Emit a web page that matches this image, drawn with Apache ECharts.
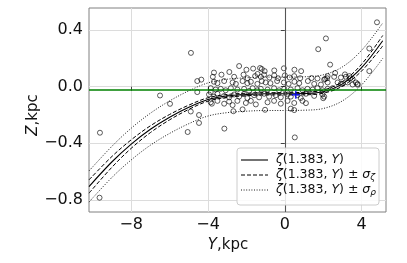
<!DOCTYPE html>
<html><head><meta charset="utf-8">
<script src="https://cdn.jsdelivr.net/npm/echarts@6/dist/echarts.min.js"></script>
<style>html,body{margin:0;padding:0;background:#fff}#c{width:407px;height:263px}</style>
</head><body><div id="c"></div>
<script>
// Curve sample positions (Y, kpc) and values (Z, kpc)
const curveY   = [-10.2, -9, -8, -7, -6, -5, -4, -3, -2, -1, 0, 1, 2, 3, 4, 5.1];
const zetaMid  = [-0.705,-0.53,-0.405,-0.30,-0.215,-0.145,-0.09,-0.065,-0.055,-0.05,-0.05,-0.048,-0.035,0.02,0.135,0.325];
const zetaUpZ  = [-0.658,-0.492,-0.375,-0.276,-0.196,-0.13,-0.078,-0.055,-0.046,-0.042,-0.042,-0.039,-0.024,0.036,0.159,0.362];
const zetaLoZ  = [-0.752,-0.568,-0.435,-0.324,-0.234,-0.16,-0.102,-0.075,-0.064,-0.058,-0.058,-0.057,-0.046,0.004,0.111,0.288];
const zetaUpR  = [-0.595,-0.42,-0.293,-0.187,-0.10,-0.029,0.027,0.053,0.063,0.068,0.068,0.07,0.084,0.14,0.257,0.45];
const zetaLoR  = [-0.815,-0.64,-0.517,-0.413,-0.33,-0.261,-0.207,-0.183,-0.173,-0.168,-0.168,-0.166,-0.154,-0.10,0.013,0.20];
const zLevel = -0.02;      // green horizontal line
const sunPoint = [0.57, -0.057]; // blue cross
const xTicks = [-8, -4, 0, 4];
const yTicks = [-0.8, -0.4, 0, 0.4];
const stars = [
 [4.80,0.455],[2.14,0.341],[1.74,0.265],[2.36,0.156],[4.40,0.27],[4.40,0.11],[3.79,0.014],[-4.89,0.239],[-2.38,0.146],[-3.69,0.10],
 [-2.89,0.104],[-1.65,0.128],[-1.29,0.132],[-4.56,0.04],[-4.35,0.05],[-6.5,-0.062],[-5.98,-0.121],[-4.9,-0.175],[-4.47,-0.2],[-4.47,-0.256],
 [-5.06,-0.32],[-3.15,-0.296],[-9.63,-0.325],[0.52,-0.358],[-9.65,-0.784],[-1.03,-0.163],[-2.68,-0.173],[1.10,-0.116],[2.0,-0.081],[1.39,0.061],
 [1.70,0.058],[2.1,0.055],[2.62,0.097],[3.13,0.087],[3.4,0.06],[3.7,0.03],[-4.56,-0.038],[-3.86,-0.038],[-3.8,-0.12],[2.92,0.065],
 [3.18,0.07],[3.36,0.075],[3.53,0.055],[2.57,0.07],[2.23,0.075],[1.53,0.02],[1.88,0.015],[2.92,0.02],[3.27,0.03],[3.53,0.015],[3.79,0.02],
 [-1.2,0.125],[-1.05,0.11],[-0.55,0.115],[-0.05,0.13],[0.5,0.12],[0.85,0.11],[-2.0,0.12],
 [-3.75,0.07],[-3.3,0.085],[-2.64,0.07],[-2.15,0.085],[-1.95,0.06],[-1.55,0.075],[-1.42,0.09],[-1.25,0.07],[-1.08,0.085],[-0.8,0.065],
 [-0.55,0.08],[-0.35,0.06],[0.0,0.08],[0.25,0.065],[0.49,0.075],[0.8,0.06],[2.05,0.05],[2.2,0.06],
 [-3.69,0.035],[-3.51,0.025],[-3.16,0.04],[-2.72,0.03],[-2.55,0.02],[-2.2,0.04],[-1.95,0.025],[-1.77,0.035],[-1.43,0.02],[-1.2,0.04],
 [-1.0,0.03],[-0.75,0.025],[-0.4,0.04],[-0.05,0.03],[0.2,0.02],[0.5,0.035],[0.75,0.025],[1.2,0.04],[2.23,0.03],[2.75,0.03],[3.01,0.02],
 [-3.86,-0.01],[-3.6,-0.02],[-3.34,-0.015],[-3.08,-0.025],[-2.81,-0.01],[-2.47,-0.02],[-2.12,-0.015],[-1.86,-0.03],[-1.68,-0.01],[-1.43,-0.025],
 [-1.25,-0.015],[-0.9,-0.02],[-0.56,-0.01],[-0.3,-0.025],[-0.03,-0.015],[0.31,-0.02],[0.66,-0.01],[0.92,-0.025],[1.18,-0.015],[1.45,-0.02],
 [1.7,-0.01],[1.96,-0.025],[2.23,-0.015],[2.49,-0.01],
 [-3.95,-0.055],[-3.69,-0.07],[-3.51,-0.05],[-3.16,-0.065],[-2.9,-0.075],[-2.64,-0.055],[-2.38,-0.07],[-2.12,-0.05],[-1.95,-0.08],[-1.6,-0.06],
 [-1.34,-0.075],[-1.08,-0.05],[-0.82,-0.07],[-0.47,-0.06],[-0.21,-0.075],[0.14,-0.055],[0.31,-0.07],[0.66,-0.06],[0.83,-0.08],[1.1,-0.05],
 [1.53,-0.065],[1.96,-0.055],[2.05,-0.07],
 [-3.86,-0.11],[-3.51,-0.1],[-3.16,-0.12],[-2.9,-0.105],[-2.72,-0.13],[-2.47,-0.1],[-2.03,-0.115],[-1.77,-0.1],[-1.51,-0.125],[-0.9,-0.11],
 [-0.56,-0.1],[-0.21,-0.12],[0.14,-0.1],[0.49,-0.115],[0.92,-0.1],
 [-2.2,-0.16],[0.31,-0.155],[0.49,-0.165]
];

const zip = (xs, ys) => xs.map((x, i) => [x, ys[i]]);
const font = 'DejaVu Sans';
const minus = v => String(v).replace('-', '\u2212');

const chart = echarts.init(document.getElementById('c'), null, {renderer: 'canvas'});
const lineS = (name, vals, type, w) => ({
  type: 'line', name, data: zip(curveY, vals), symbol: 'none', smooth: 0.35,
  lineStyle: {color: '#000', width: w, type}, z: 3, silent: true
});
chart.setOption({
  animation: false,
  grid: {left: 89, right: 21, top: 8, bottom: 51, show: true, borderColor: '#808080', borderWidth: 1, backgroundColor: '#fff'},
  xAxis: {
    type: 'value', min: -10.2, max: 5.27,
    axisLine: {show: false},
    axisTick: {show: true, inside: false, length: 4, lineStyle: {color: '#444'}, customValues: xTicks},
    axisLabel: {customValues: xTicks, formatter: v => minus(v), fontFamily: font, fontSize: 16, color: '#111', margin: 5},
    splitLine: {show: true, lineStyle: {color: '#dcdcdc', width: 1}}
  },
  yAxis: {
    type: 'value', min: -0.885, max: 0.556,
    axisLine: {show: false},
    axisTick: {show: true, inside: false, length: 4, lineStyle: {color: '#444'}, customValues: yTicks},
    axisLabel: {customValues: yTicks, formatter: v => minus(v.toFixed(1)), fontFamily: font, fontSize: 16, color: '#111', margin: 6},
    splitLine: {show: true, lineStyle: {color: '#dcdcdc', width: 1}}
  },
  series: [
    {
      type: 'scatter', data: stars, symbol: 'circle', symbolSize: 5,
      itemStyle: {color: 'rgba(255,255,255,0)', borderColor: '#000', borderWidth: 0.8}, z: 2, silent: true,
      markLine: {
        silent: true, symbol: 'none', label: {show: false}, animation: false,
        data: [
          {xAxis: 0, lineStyle: {color: '#555', width: 1.1, type: 'solid'}},
          {yAxis: zLevel, lineStyle: {color: '#008000', width: 1.5, type: 'solid'}}
        ]
      }
    },
    lineS('mid', zetaMid, 'solid', 1.1),
    lineS('sz', zetaUpZ, [4, 2], 1),
    lineS('sz', zetaLoZ, [4, 2], 1),
    lineS('sr', zetaUpR, [1, 1.6], 0.9),
    lineS('sr', zetaLoR, [1, 1.6], 0.9),
    {
      type: 'scatter', data: [sunPoint], symbol: 'path://M4,0H6V10H4Z M0,4H10V6H0Z', symbolSize: 8,
      itemStyle: {color: '#0000ff'}, z: 5, silent: true
    }
  ],
  graphic: [
    {type: 'rect', shape: {x: 237, y: 148, width: 142, height: 57, r: 3}, style: {fill: 'rgba(255,255,255,0.85)', stroke: '#cccccc', lineWidth: 1}, z: 10},
    {type: 'line', shape: {x1: 241, y1: 160, x2: 268, y2: 160}, style: {stroke: '#000', lineWidth: 1.1}, z: 11},
    {type: 'line', shape: {x1: 241, y1: 175, x2: 268, y2: 175}, style: {stroke: '#000', lineWidth: 1, lineDash: [4, 2]}, z: 11},
    {type: 'line', shape: {x1: 241, y1: 190, x2: 268, y2: 190}, style: {stroke: '#000', lineWidth: 0.9, lineDash: [1, 1.6]}, z: 11},
    {type: 'text', x: 276, y: 160, z: 11, style: {text: '{i|ζ}(1.383, {i|Y})', fontFamily: font, fontSize: 12.5, fill: '#111', verticalAlign: 'middle',
      rich: {i: {fontStyle: 'italic', fontFamily: font, fontSize: 12.5}}}},
    {type: 'text', x: 276, y: 175, z: 11, style: {text: '{i|ζ}(1.383, {i|Y}) ± {i|σ}{s|ζ}', fontFamily: font, fontSize: 12.5, fill: '#111', verticalAlign: 'middle',
      rich: {i: {fontStyle: 'italic', fontFamily: font, fontSize: 12.5}, s: {fontStyle: 'italic', fontFamily: font, fontSize: 9, padding: [5, 0, 0, 0]}}}},
    {type: 'text', x: 276, y: 190, z: 11, style: {text: '{i|ζ}(1.383, {i|Y}) ± {i|σ}{s|ρ}', fontFamily: font, fontSize: 12.5, fill: '#111', verticalAlign: 'middle',
      rich: {i: {fontStyle: 'italic', fontFamily: font, fontSize: 12.5}, s: {fontStyle: 'italic', fontFamily: font, fontSize: 9, padding: [5, 0, 0, 0]}}}},
    {type: 'text', x: 228, y: 245, z: 11, style: {text: '{i|Y},kpc', fontFamily: font, fontSize: 15, fill: '#111', align: 'center', verticalAlign: 'middle',
      rich: {i: {fontStyle: 'italic', fontFamily: font, fontSize: 15}}}},
    {type: 'text', x: 33, y: 115, rotation: Math.PI / 2, z: 11, style: {text: '{i|Z},kpc', fontFamily: font, fontSize: 15, fill: '#111', align: 'center', verticalAlign: 'middle',
      rich: {i: {fontStyle: 'italic', fontFamily: font, fontSize: 15}}}}
  ]
});
</script></body></html>
